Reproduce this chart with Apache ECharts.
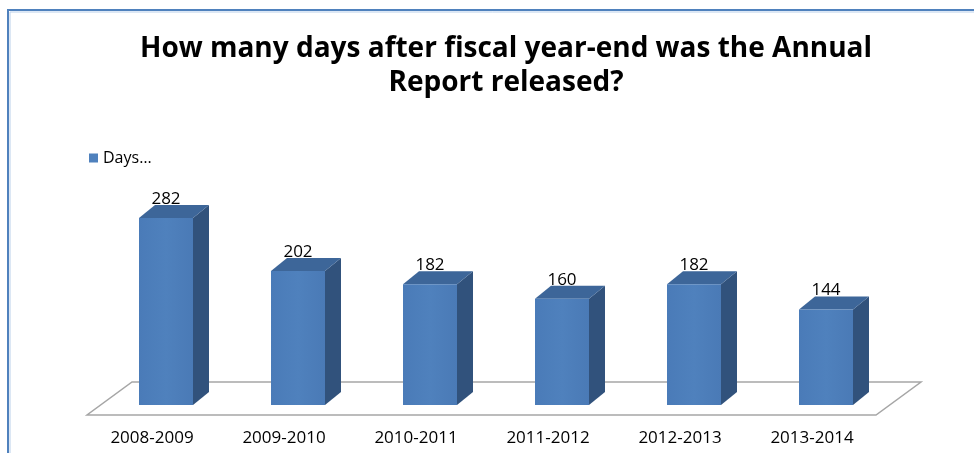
<!DOCTYPE html>
<html>
<head>
<meta charset="utf-8">
<script src="https://cdn.jsdelivr.net/npm/echarts@6/dist/echarts.min.js"></script>
<style>
html,body{margin:0;padding:0;background:#fff;}
#chart{width:974px;height:453px;}
</style>
</head>
<body>
<div id="chart"></div>
<script>
var titleText = 'How many days after fiscal year-end was the Annual\nReport released?';
var seriesName = 'Days…';
var categories = ['2008-2009', '2009-2010', '2010-2011', '2011-2012', '2012-2013', '2013-2014'];
var days = [282, 202, 182, 160, 182, 144];

var FONT = '"Open Sans", "Noto Sans", sans-serif';
var DX = 16, DY = 13;      // 3D depth offsets
var BAR_W = 54, BAR_SHIFT = 14;

var chart = echarts.init(document.getElementById('chart'), null, {renderer: 'canvas'});

function renderFloor(params, api) {
  var cs = params.coordSys;
  var y0 = api.coord([0, 0])[1];
  var xl = cs.x + 1, xr = cs.x + cs.width - 2;
  var fy = y0 + 10, by = y0 - 23, bdx = 45;
  return {
    type: 'polygon',
    shape: {points: [[xl, fy], [xr, fy], [xr + bdx, by], [xl + bdx, by]]},
    style: {fill: '#ffffff', stroke: '#a6a6a6', lineWidth: 1.5},
    silent: true
  };
}

function renderBar(params, api) {
  var idx = api.value(0);
  var val = api.value(1);
  var top = api.coord([idx, val]);
  var base = api.coord([idx, 0]);
  var cx = top[0] + BAR_SHIFT;
  var x1 = cx - BAR_W / 2, x2 = cx + BAR_W / 2;
  var yt = top[1], yb = base[1];
  return {
    type: 'group',
    children: [
      {type: 'polygon', shape: {points: [[x2, yt], [x2 + DX, yt - DY], [x2 + DX, yb - DY], [x2, yb]]},
        style: {fill: '#31527c'}},
      {type: 'polygon', shape: {points: [[x1, yt], [x1 + DX, yt - DY], [x2 + DX, yt - DY], [x2, yt]]},
        style: {fill: '#3d6699'}},
      {type: 'rect', shape: {x: x1, y: yt, width: BAR_W, height: yb - yt},
        style: {fill: new echarts.graphic.LinearGradient(0, 0, 1, 0, [
          {offset: 0, color: '#4a7bb8'}, {offset: 0.5, color: '#4f81bd'}, {offset: 1, color: '#4a7ab6'}])}},
      {type: 'text', x: cx, y: yt - 19,
        style: {text: String(val), fill: '#000', font: '17px ' + FONT, align: 'center', verticalAlign: 'middle'}}
    ]
  };
}

var option = {
  backgroundColor: '#ffffff',
  animation: false,
  title: {
    text: titleText,
    left: 501,
    top: 27,
    textAlign: 'center',
    textStyle: {fontFamily: FONT, fontWeight: 'bold', fontSize: 28, lineHeight: 34, color: '#000'}
  },
  legend: {
    left: 84, top: 145,
    data: [{name: seriesName, icon: 'rect'}],
    itemWidth: 9, itemHeight: 9, itemGap: 6,
    textStyle: {fontFamily: FONT, fontSize: 16, color: '#000'}
  },
  grid: {left: 86, right: 96, top: 206, bottom: 48},
  xAxis: {
    type: 'category',
    data: categories,
    axisLine: {show: false},
    axisTick: {show: false},
    axisLabel: {margin: 23, fontFamily: FONT, fontSize: 17, lineHeight: 20, color: '#000'}
  },
  yAxis: {type: 'value', min: 0, max: 300, show: false, splitLine: {show: false}},
  graphic: [
    {type: 'rect', shape: {x: 8, y: 10, width: 1000, height: 500}, style: {fill: 'none', stroke: '#4f81bd', lineWidth: 2}, z: 100, silent: true},
    {type: 'rect', shape: {x: 10, y: 12, width: 1000, height: 500}, style: {fill: 'none', stroke: '#b9cfea', lineWidth: 1}, z: 100, silent: true}
  ],
  series: [
    {type: 'custom', name: 'floor', renderItem: renderFloor, data: [[0, 0]], z: 1, silent: true},
    {type: 'custom', name: seriesName, renderItem: renderBar, itemStyle: {color: '#4f81bd'},
      data: days.map(function (v, i) { return [i, v]; }), z: 2,
      encode: {x: 0, y: 1}}
  ]
};
chart.setOption(option);
</script>
</body>
</html>
